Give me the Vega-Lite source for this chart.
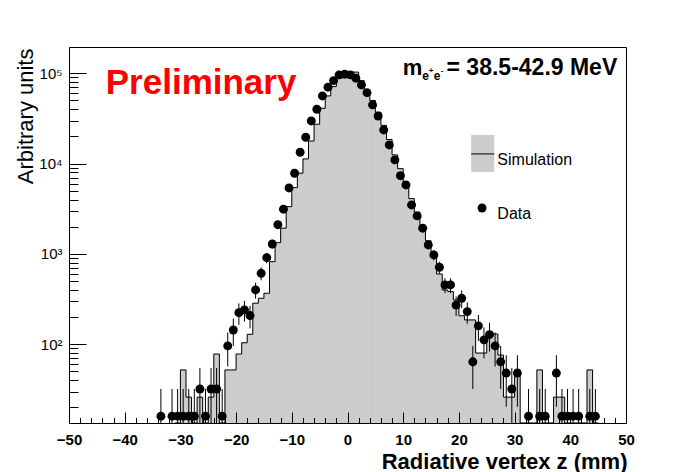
{
  "$schema": "https://vega.github.io/schema/vega-lite/v6.json",
  "width": 557,
  "height": 376,
  "autosize": {"type": "none"},
  "padding": {"left": 69, "top": 47, "right": 70, "bottom": 49},
  "background": "white",
  "config": {
    "font": "Liberation Sans",
    "view": {"stroke": "black", "strokeWidth": 1},
    "axis": {"grid": false, "domainColor": "black", "tickColor": "black", "labelColor": "black", "titleColor": "black"}
  },
  "resolve": {"axis": {"x": "independent", "y": "independent"}},
  "datasets": {
    "sim": [
      {"z0": -31, "z1": -30, "n": 0}, {"z0": -30, "z1": -29, "n": 52}, {"z0": -29, "z1": -28, "n": 26},
      {"z0": -28, "z1": -27, "n": 0}, {"z0": -27, "z1": -26, "n": 26}, {"z0": -26, "z1": -25, "n": 0},
      {"z0": -25, "z1": -24, "n": 26}, {"z0": -24, "z1": -23, "n": 78}, {"z0": -23, "z1": -22, "n": 0},
      {"z0": -22, "z1": -21, "n": 52}, {"z0": -21, "z1": -20, "n": 52}, {"z0": -20, "z1": -19, "n": 78},
      {"z0": -19, "z1": -18, "n": 104}, {"z0": -18, "z1": -17, "n": 129}, {"z0": -17, "z1": -16, "n": 285},
      {"z0": -16, "z1": -15, "n": 323}, {"z0": -15, "z1": -14, "n": 367}, {"z0": -14, "z1": -13, "n": 822},
      {"z0": -13, "z1": -12, "n": 1334}, {"z0": -12, "z1": -11, "n": 1930}, {"z0": -11, "z1": -10, "n": 3340},
      {"z0": -10, "z1": -9, "n": 5420}, {"z0": -9, "z1": -8, "n": 7830}, {"z0": -8, "z1": -7, "n": 11270},
      {"z0": -7, "z1": -6, "n": 17800}, {"z0": -6, "z1": -5, "n": 27300}, {"z0": -5, "z1": -4, "n": 41000},
      {"z0": -4, "z1": -3, "n": 56200}, {"z0": -3, "z1": -2, "n": 71300}, {"z0": -2, "z1": -1, "n": 88300},
      {"z0": -1, "z1": 0, "n": 100000}, {"z0": 0, "z1": 1, "n": 104000}, {"z0": 1, "z1": 2, "n": 103000},
      {"z0": 2, "z1": 3, "n": 83000}, {"z0": 3, "z1": 4, "n": 65000}, {"z0": 4, "z1": 5, "n": 50000},
      {"z0": 5, "z1": 6, "n": 37000}, {"z0": 6, "z1": 7, "n": 26500}, {"z0": 7, "z1": 8, "n": 18500},
      {"z0": 8, "z1": 9, "n": 12500}, {"z0": 9, "z1": 10, "n": 8800}, {"z0": 10, "z1": 11, "n": 6000},
      {"z0": 11, "z1": 12, "n": 4100}, {"z0": 12, "z1": 13, "n": 2900}, {"z0": 13, "z1": 14, "n": 2050},
      {"z0": 14, "z1": 15, "n": 1400}, {"z0": 15, "z1": 16, "n": 1000}, {"z0": 16, "z1": 17, "n": 600},
      {"z0": 17, "z1": 18, "n": 399}, {"z0": 18, "z1": 19, "n": 383}, {"z0": 19, "z1": 20, "n": 310},
      {"z0": 20, "z1": 21, "n": 207}, {"z0": 21, "z1": 22, "n": 186}, {"z0": 22, "z1": 23, "n": 186},
      {"z0": 23, "z1": 24, "n": 80}, {"z0": 24, "z1": 25, "n": 80}, {"z0": 25, "z1": 26, "n": 130},
      {"z0": 26, "z1": 27, "n": 130}, {"z0": 27, "z1": 28, "n": 76}, {"z0": 28, "z1": 29, "n": 26},
      {"z0": 29, "z1": 30, "n": 26}, {"z0": 30, "z1": 31, "n": 52}, {"z0": 31, "z1": 32, "n": 0},
      {"z0": 32, "z1": 33, "n": 0}, {"z0": 33, "z1": 34, "n": 0}, {"z0": 34, "z1": 35, "n": 52},
      {"z0": 35, "z1": 36, "n": 0}, {"z0": 36, "z1": 37, "n": 0}, {"z0": 37, "z1": 38, "n": 26},
      {"z0": 38, "z1": 39, "n": 26}, {"z0": 39, "z1": 40, "n": 0}, {"z0": 40, "z1": 41, "n": 0},
      {"z0": 41, "z1": 42, "n": 0}, {"z0": 42, "z1": 43, "n": 0}, {"z0": 43, "z1": 44, "n": 52},
      {"z0": 44, "z1": 45, "n": 0}, {"z0": 45, "z1": 46, "n": 0}
    ],
    "data": [
      {"z": -33.5, "n": 16, "lo": 0, "hi": 32}, {"z": -31.5, "n": 16, "lo": 0, "hi": 32},
      {"z": -30.5, "n": 16, "lo": 0, "hi": 32}, {"z": -29.5, "n": 16, "lo": 0, "hi": 32},
      {"z": -28.5, "n": 16, "lo": 0, "hi": 32}, {"z": -27.5, "n": 16, "lo": 0, "hi": 32},
      {"z": -26.5, "n": 32, "lo": 9.4, "hi": 54.6}, {"z": -25.5, "n": 16, "lo": 0, "hi": 32},
      {"z": -24.5, "n": 32, "lo": 9.4, "hi": 54.6}, {"z": -23.5, "n": 32, "lo": 9.4, "hi": 54.6},
      {"z": -22.5, "n": 16, "lo": 0, "hi": 32}, {"z": -21.5, "n": 96, "lo": 56.8, "hi": 135.2},
      {"z": -20.5, "n": 144, "lo": 96, "hi": 192}, {"z": -19.5, "n": 224, "lo": 164, "hi": 284},
      {"z": -18.5, "n": 240, "lo": 178, "hi": 302}, {"z": -17.5, "n": 208, "lo": 150, "hi": 266},
      {"z": -16.5, "n": 400, "lo": 320, "hi": 480}, {"z": -15.5, "n": 611, "lo": 512, "hi": 710},
      {"z": -14.5, "n": 910, "lo": 789, "hi": 1031}, {"z": -13.5, "n": 1290, "lo": 1146, "hi": 1434},
      {"z": -12.5, "n": 2110, "lo": 1926, "hi": 2294}, {"z": -11.5, "n": 3130, "lo": 2906, "hi": 3354},
      {"z": -10.5, "n": 5380, "lo": 5087, "hi": 5673}, {"z": -9.5, "n": 7830, "lo": 7476, "hi": 8184},
      {"z": -8.5, "n": 13370, "lo": 12907, "hi": 13833}, {"z": -7.5, "n": 19600, "lo": 19040, "hi": 20160},
      {"z": -6.5, "n": 29700, "lo": 29011, "hi": 30389}, {"z": -5.5, "n": 40000, "lo": 39200, "hi": 40800},
      {"z": -4.5, "n": 56200, "lo": 55252, "hi": 57148}, {"z": -3.5, "n": 70200, "lo": 69140, "hi": 71260},
      {"z": -2.5, "n": 83000, "lo": 81848, "hi": 84152}, {"z": -1.5, "n": 96000, "lo": 94761, "hi": 97239},
      {"z": -0.5, "n": 97700, "lo": 96450, "hi": 98950}, {"z": 0.5, "n": 96000, "lo": 94761, "hi": 97239},
      {"z": 1.5, "n": 88300, "lo": 87111, "hi": 89489}, {"z": 2.5, "n": 74300, "lo": 73210, "hi": 75390},
      {"z": 3.5, "n": 61100, "lo": 60111, "hi": 62089}, {"z": 4.5, "n": 44700, "lo": 43854, "hi": 45546},
      {"z": 5.5, "n": 33700, "lo": 32966, "hi": 34434}, {"z": 6.5, "n": 23600, "lo": 22986, "hi": 24214},
      {"z": 7.5, "n": 16100, "lo": 15592, "hi": 16608}, {"z": 8.5, "n": 11000, "lo": 10580, "hi": 11420},
      {"z": 9.5, "n": 7360, "lo": 7017, "hi": 7703}, {"z": 10.5, "n": 5810, "lo": 5505, "hi": 6115},
      {"z": 11.5, "n": 3490, "lo": 3254, "hi": 3726}, {"z": 12.5, "n": 2640, "lo": 2434, "hi": 2846},
      {"z": 13.5, "n": 1930, "lo": 1754, "hi": 2106}, {"z": 14.5, "n": 1260, "lo": 1118, "hi": 1402},
      {"z": 15.5, "n": 975, "lo": 850, "hi": 1100}, {"z": 16.5, "n": 713, "lo": 606, "hi": 820},
      {"z": 17.5, "n": 454, "lo": 369, "hi": 539}, {"z": 18.5, "n": 454, "lo": 369, "hi": 539},
      {"z": 19.5, "n": 272, "lo": 206, "hi": 338}, {"z": 20.5, "n": 323, "lo": 251, "hi": 395},
      {"z": 21.5, "n": 230, "lo": 169, "hi": 291}, {"z": 22.5, "n": 64, "lo": 32, "hi": 96},
      {"z": 23.5, "n": 160, "lo": 109, "hi": 211}, {"z": 24.5, "n": 112, "lo": 70, "hi": 154},
      {"z": 25.5, "n": 128, "lo": 83, "hi": 173}, {"z": 26.5, "n": 96, "lo": 56.8, "hi": 135.2},
      {"z": 27.5, "n": 64, "lo": 32, "hi": 96}, {"z": 28.5, "n": 48, "lo": 20.3, "hi": 75.7},
      {"z": 29.5, "n": 32, "lo": 9.4, "hi": 54.6}, {"z": 30.5, "n": 48, "lo": 20.3, "hi": 75.7},
      {"z": 32.5, "n": 16, "lo": 0, "hi": 32}, {"z": 34.5, "n": 16, "lo": 0, "hi": 32},
      {"z": 35.5, "n": 16, "lo": 0, "hi": 32}, {"z": 37.5, "n": 48, "lo": 20.3, "hi": 75.7},
      {"z": 38.5, "n": 16, "lo": 0, "hi": 32}, {"z": 39.5, "n": 16, "lo": 0, "hi": 32},
      {"z": 40.5, "n": 16, "lo": 0, "hi": 32}, {"z": 41.5, "n": 16, "lo": 0, "hi": 32},
      {"z": 43.5, "n": 16, "lo": 0, "hi": 32}, {"z": 44.5, "n": 16, "lo": 0, "hi": 32}
    ],
    "one": [{}]
  },
  "layer": [
    {
      "data": {"name": "sim"},
      "mark": {"type": "rect", "fill": "#cccccc", "stroke": "#cccccc", "strokeWidth": 0.6, "clip": true, "invalid": "show"},
      "encoding": {
        "x": {
          "field": "z0", "type": "quantitative",
          "scale": {"domain": [-50, 50], "nice": false, "zero": false},
          "axis": {
            "orient": "bottom",
            "values": [-50,-40,-30,-20,-10,0,10,20,30,40,50],
            "format": "d",
            "tickSize": -11,
            "labelPadding": 20,
            "zindex": 1,
            "labelFont": "Liberation Sans", "labelFontSize": 15, "labelFontWeight": "bold",
            "labelFlush": false, "labelOverlap": false,
            "title": "Radiative vertex z (mm)",
            "titleFont": "Liberation Sans", "titleFontSize": 22, "titleFontWeight": "bold",
            "titleAnchor": "end", "titleAlign": "right", "titleBaseline": "alphabetic",
            "titleX": 558, "titleY": 45
          }
        },
        "x2": {"field": "z1"},
        "y": {
          "field": "n", "type": "quantitative",
          "scale": {"type": "log", "domain": [13.45, 195500], "nice": false, "zero": false, "clamp": true},
          "axis": {
            "orient": "left",
            "values": [100, 1000, 10000, 100000],
            "labelExpr": "datum.value == 100 ? '10²' : datum.value == 1000 ? '10³' : datum.value == 10000 ? '10⁴' : '10⁵'",
            "tickSize": -17,
            "labelPadding": 24,
            "zindex": 1,
            "labelFont": "Liberation Sans", "labelFontSize": 15, "labelFontWeight": "normal",
            "labelFlush": false, "labelOverlap": false,
            "title": "Arbitrary units",
            "titleFont": "Liberation Sans", "titleFontSize": 22, "titleFontWeight": "normal",
            "titleAngle": -90, "titleAlign": "right", "titleBaseline": "alphabetic",
            "titleX": -37, "titleY": 1
          }
        },
        "y2": {"datum": 13.45}
      }
    },
    {
      "data": {"name": "sim"},
      "mark": {"type": "line", "interpolate": "step-after", "color": "black", "strokeWidth": 1, "clip": true, "invalid": "show"},
      "encoding": {
        "x": {
          "field": "z0", "type": "quantitative",
          "axis": {
            "orient": "bottom",
            "values": [-48,-46,-44,-42,-38,-36,-34,-32,-28,-26,-24,-22,-18,-16,-14,-12,-8,-6,-4,-2,2,4,6,8,12,14,16,18,22,24,26,28,32,34,36,38,42,44,46,48],
            "tickSize": -5.5, "labels": false, "domain": false, "title": null, "zindex": 1
          }
        },
        "y": {
          "field": "n", "type": "quantitative",
          "axis": {
            "orient": "left",
            "values": [20,30,40,50,60,70,80,90,200,300,400,500,600,700,800,900,2000,3000,4000,5000,6000,7000,8000,9000,20000,30000,40000,50000,60000,70000,80000,90000],
            "tickSize": -9, "labels": false, "domain": false, "title": null, "zindex": 1
          }
        }
      }
    },
    {
      "data": {"name": "data"},
      "mark": {"type": "rule", "color": "black", "strokeWidth": 1, "clip": true, "invalid": "show"},
      "encoding": {
        "x": {"field": "z", "type": "quantitative", "axis": null},
        "y": {"field": "lo", "type": "quantitative", "axis": null},
        "y2": {"field": "hi"}
      }
    },
    {
      "data": {"name": "data"},
      "mark": {"type": "point", "shape": "circle", "filled": true, "size": 80, "color": "black", "opacity": 1, "clip": true},
      "encoding": {
        "x": {"field": "z", "type": "quantitative", "axis": null},
        "y": {"field": "n", "type": "quantitative", "axis": null}
      }
    },
    {
      "data": {"name": "one"},
      "mark": {"type": "rect", "fill": "#cccccc", "strokeWidth": 0},
      "encoding": {
        "x": {"datum": 22.2, "axis": null}, "x2": {"datum": 26.35},
        "y": {"datum": 20800, "axis": null}, "y2": {"datum": 8090}
      }
    },
    {
      "data": {"name": "one"},
      "mark": {"type": "rule", "color": "black", "strokeWidth": 1},
      "encoding": {
        "x": {"datum": 22.2, "axis": null}, "x2": {"datum": 26.35},
        "y": {"datum": 12800, "axis": null}
      }
    },
    {
      "data": {"name": "one"},
      "mark": {"type": "point", "shape": "circle", "filled": true, "size": 80, "color": "black", "opacity": 1},
      "encoding": {"x": {"datum": 24.15, "axis": null}, "y": {"datum": 3230, "axis": null}}
    },
    {
      "data": {"name": "one"},
      "mark": {"type": "text", "align": "left", "baseline": "middle", "font": "Liberation Sans", "fontSize": 16, "color": "black"},
      "encoding": {"x": {"datum": 26.9, "axis": null}, "y": {"datum": 10990, "axis": null}, "text": {"value": "Simulation"}}
    },
    {
      "data": {"name": "one"},
      "mark": {"type": "text", "align": "left", "baseline": "middle", "font": "Liberation Sans", "fontSize": 16, "color": "black"},
      "encoding": {"x": {"datum": 26.9, "axis": null}, "y": {"datum": 2767, "axis": null}, "text": {"value": "Data"}}
    },
    {
      "data": {"name": "one"},
      "mark": {"type": "text", "align": "left", "baseline": "alphabetic", "font": "Liberation Sans", "fontSize": 35, "fontWeight": "bold", "color": "#ff0000"},
      "encoding": {"x": {"datum": -43.4, "axis": null}, "y": {"datum": 58700, "axis": null}, "text": {"value": "Preliminary"}}
    },
    {
      "data": {"name": "one"},
      "mark": {"type": "text", "align": "left", "baseline": "alphabetic", "font": "Liberation Sans", "fontSize": 22, "fontWeight": "bold", "color": "black"},
      "encoding": {"x": {"datum": 9.9, "axis": null}, "y": {"datum": 95900, "axis": null}, "text": {"value": "m"}}
    },
    {
      "data": {"name": "one"},
      "mark": {"type": "text", "align": "left", "baseline": "alphabetic", "font": "Liberation Sans", "fontSize": 12, "fontWeight": "bold", "color": "black"},
      "encoding": {"x": {"datum": 13.4, "axis": null}, "y": {"datum": 84500, "axis": null}, "text": {"value": "e"}}
    },
    {
      "data": {"name": "one"},
      "mark": {"type": "text", "align": "left", "baseline": "alphabetic", "font": "Liberation Sans", "fontSize": 8, "fontWeight": "bold", "color": "black"},
      "encoding": {"x": {"datum": 14.6, "axis": null}, "y": {"datum": 101000, "axis": null}, "text": {"value": "+"}}
    },
    {
      "data": {"name": "one"},
      "mark": {"type": "text", "align": "left", "baseline": "alphabetic", "font": "Liberation Sans", "fontSize": 12, "fontWeight": "bold", "color": "black"},
      "encoding": {"x": {"datum": 15.5, "axis": null}, "y": {"datum": 84500, "axis": null}, "text": {"value": "e"}}
    },
    {
      "data": {"name": "one"},
      "mark": {"type": "text", "align": "left", "baseline": "alphabetic", "font": "Liberation Sans", "fontSize": 8, "fontWeight": "bold", "color": "black"},
      "encoding": {"x": {"datum": 16.75, "axis": null}, "y": {"datum": 101000, "axis": null}, "text": {"value": "-"}}
    },
    {
      "data": {"name": "one"},
      "mark": {"type": "text", "align": "right", "baseline": "alphabetic", "font": "Liberation Sans", "fontSize": 23, "fontWeight": "bold", "color": "black"},
      "encoding": {"x": {"datum": 48.43, "axis": null}, "y": {"datum": 95900, "axis": null}, "text": {"value": "= 38.5-42.9 MeV"}}
    }
  ]
}
